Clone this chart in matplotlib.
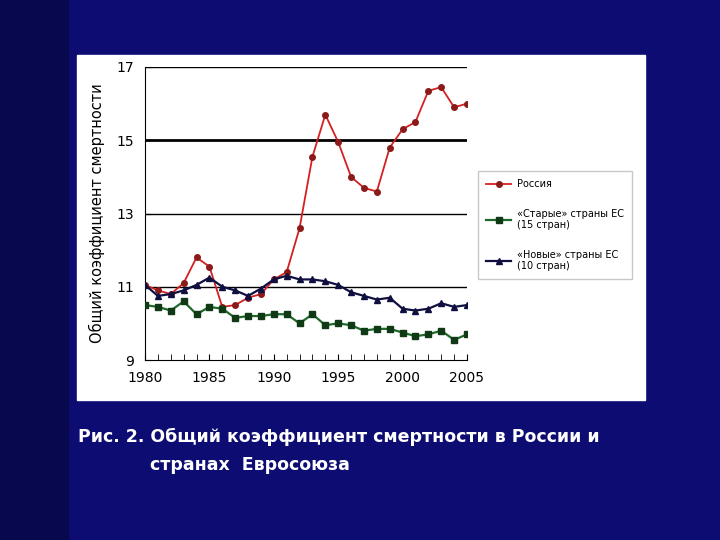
import matplotlib.pyplot as plt
import matplotlib.patches as mpatches

years = list(range(1980, 2006))
russia = [11.05, 10.9, 10.8, 11.1, 11.8, 11.55, 10.45, 10.5, 10.7, 10.8, 11.2, 11.4, 12.6,
          14.55, 15.7, 14.95, 14.0, 13.7, 13.6, 14.8, 15.3, 15.5, 16.35, 16.45, 15.9, 16.0]
old_eu = [10.5, 10.45, 10.35, 10.6, 10.25, 10.45, 10.4, 10.15, 10.2, 10.2, 10.25, 10.25, 10.0,
          10.25, 9.95, 10.0, 9.95, 9.8, 9.85, 9.85, 9.75, 9.65, 9.7, 9.8, 9.55, 9.7]
new_eu = [11.05, 10.75, 10.8, 10.9, 11.05, 11.25, 11.0, 10.9, 10.75, 10.95, 11.2, 11.3, 11.2,
          11.2, 11.15, 11.05, 10.85, 10.75, 10.65, 10.7, 10.4, 10.35, 10.4, 10.55, 10.45, 10.5]
yticks = [9, 11, 13, 15, 17]

fig = plt.figure(figsize=(7.2, 5.4), dpi=100)
fig.patch.set_facecolor('#0c0c72')
# darker left strip
fig.patches.append(mpatches.Rectangle((0, 0), 0.095, 1, transform=fig.transFigure,
                                      color='#08084f', zorder=0))
# white panel
fig.patches.append(mpatches.Rectangle((77/720, 1-400/540), (645-77)/720, (400-55)/540,
                                      transform=fig.transFigure, color='white', zorder=1))

ax = fig.add_axes([145/720, 1-360/540, (467-145)/720, (360-67)/540])
ax.set_zorder(2)
ax.set_facecolor('white')
for y in [11, 13, 17]:
    ax.axhline(y, color='black', lw=1.0, zorder=1)
ax.axhline(15, color='black', lw=2.0, zorder=1)

ax.plot(years, russia, color='#d42020', lw=1.3, marker='o', ms=4,
        mfc='#8b1a1a', mec='#8b1a1a', label='Россия', zorder=3)
ax.plot(years, old_eu, color='#1f6a2a', lw=1.6, marker='s', ms=4.5,
        mfc='#0f3a15', mec='#0f3a15', label='«Старые» страны ЕС\n(15 стран)', zorder=3)
ax.plot(years, new_eu, color='#101040', lw=1.6, marker='^', ms=4.5,
        mfc='#101040', mec='#101040', label='«Новые» страны ЕС\n(10 стран)', zorder=3)

ax.set_xlim(1980, 2005)
ax.set_ylim(9, 17)
ax.set_yticks(yticks)
ax.set_xticks(years, minor=True)
ax.set_xticks([1980, 1985, 1990, 1995, 2000, 2005])
ax.tick_params(axis='x', which='both', direction='in', length=4, labelsize=10, pad=8)
ax.tick_params(axis='y', direction='in', length=4, labelsize=10, pad=8)
for s in ['top', 'right']:
    ax.spines[s].set_visible(False)
ax.set_ylabel('Общий коэффициент смертности', fontsize=10.5, labelpad=8)

leg = ax.legend(loc='upper left', bbox_to_anchor=(1.02, 0.66), fontsize=7,
                frameon=True, fancybox=False, edgecolor='#bbbbbb', labelspacing=2.0,
                handlelength=2.6, borderpad=0.8, handletextpad=0.6)

fig.text(78/720, 1-437/540, 'Рис. 2. Общий коэффициент смертности в России и',
         color='white', fontsize=12.5, fontweight='bold', va='center')
fig.text(150/720, 1-465/540, 'странах  Евросоюза',
         color='white', fontsize=12.5, fontweight='bold', va='center')

fig.savefig('out.png', dpi=100, facecolor=fig.get_facecolor())
